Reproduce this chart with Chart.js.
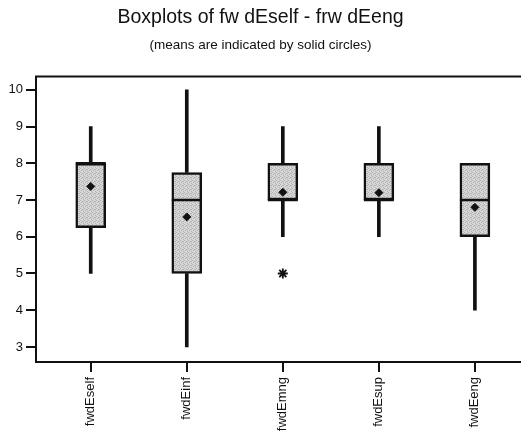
<!DOCTYPE html>
<html>
<head>
<meta charset="utf-8">
<script src="https://cdn.jsdelivr.net/npm/chart.js@4.4.1/dist/chart.umd.min.js"></script>
<style>
  html, body { margin: 0; padding: 0; background: #fff; overflow: hidden; }
  #wrap { width: 521px; height: 439px; }
</style>
</head>
<body>
<div id="wrap"><canvas id="boxChart" width="521" height="439"></canvas></div>
<script>
const categories = ['fwdEself', 'fwdEinf', 'fwdEmng', 'fwdEsup', 'fwdEeng'];
const whiskerLow = [5, 3, 6, 6, 4];
const q1 = [6.25, 5, 7, 7, 6];
const medians = [8, 7, 7, 7, 7];
const q3 = [8, 7.75, 8, 8, 8];
const whiskerHigh = [9, 10, 9, 9, 8];
const means = [7.37, 6.54, 7.21, 7.2, 6.8];
const outlierCats = [2];
const outlierValues = [5];
const yTicks = [3, 4, 5, 6, 7, 8, 9, 10];

// stippled grey fill like the printed original
function makeStipple() {
    const c = document.createElement('canvas');
    c.width = 4; c.height = 4;
    const g = c.getContext('2d');
    g.fillStyle = '#d6d6d6'; g.fillRect(0, 0, 4, 4);
    g.fillStyle = '#b2b2b2';
    [[0, 0], [2, 1], [1, 2], [3, 3], [3, 1]].forEach(p => g.fillRect(p[0], p[1], 1, 1));
    return g.createPattern(c, 'repeat');
}

const topBorder = {
    id: 'topBorder',
    afterDraw(chart) {
        const { ctx, chartArea } = chart;
        ctx.save();
        ctx.strokeStyle = '#111';
        ctx.lineWidth = 2;
        ctx.beginPath();
        ctx.moveTo(chartArea.left - 1, chartArea.top);
        ctx.lineTo(chartArea.right, chartArea.top);
        ctx.stroke();
        ctx.restore();
    }
};

const ctx = document.getElementById('boxChart').getContext('2d');
const fam = "'Liberation Sans', Arial, sans-serif";

new Chart(ctx, {
    type: 'bar',
    data: {
        datasets: [
            {
                type: 'scatter', label: 'means', order: 0,
                data: means.map((m, i) => ({ x: i, y: m })),
                pointStyle: 'rectRot', pointRadius: 4, backgroundColor: '#111', borderColor: '#111', borderWidth: 1
            },
            {
                type: 'scatter', label: 'outliers', order: 0,
                data: outlierValues.map((v, i) => ({ x: outlierCats[i], y: v })),
                pointStyle: 'star', pointRadius: 5, borderColor: '#111', borderWidth: 1.8, backgroundColor: '#111'
            },
            {
                type: 'scatter', label: 'medians', order: 1,
                data: medians.map((m, i) => ({ x: i, y: m })),
                pointStyle: 'line', pointRadius: 15, borderColor: '#111', borderWidth: 2.5
            },
            {
                label: 'boxes', order: 2, grouped: false,
                data: q1.map((v, i) => ({ x: i, y: [v, q3[i]] })),
                backgroundColor: makeStipple(), borderColor: '#111', borderWidth: 2.5, borderSkipped: false,
                barThickness: 30
            },
            {
                label: 'lower whisker', order: 3, grouped: false,
                data: whiskerLow.map((v, i) => ({ x: i, y: [v, q1[i]] })),
                backgroundColor: '#111', borderWidth: 0, barThickness: 3
            },
            {
                label: 'upper whisker', order: 3, grouped: false,
                data: whiskerHigh.map((v, i) => ({ x: i, y: [q3[i], v] })),
                backgroundColor: '#111', borderWidth: 0, barThickness: 3
            }
        ]
    },
    options: {
        responsive: false, animation: false,
        layout: { autoPadding: false, padding: { left: 0, right: 0, top: 0, bottom: 0 } },
        plugins: {
            legend: { display: false },
            tooltip: { enabled: false },
            title: {
                display: true, text: 'Boxplots of fw dEself - frw dEeng', color: '#111',
                font: { family: fam, size: 19.5, weight: 'normal' }, padding: { top: 6, bottom: 3 }
            },
            subtitle: {
                display: true, text: '(means are indicated by solid circles)', color: '#111',
                font: { family: fam, size: 13.5 }, padding: { top: 5, bottom: 23 }
            }
        },
        scales: {
            x: {
                type: 'linear', min: -0.57, max: 4.48, offset: false,
                afterBuildTicks: s => { s.ticks = categories.map((c, i) => ({ value: i })); },
                afterFit: s => { s.height = 77; s.paddingLeft = 0; s.paddingRight = 0; },
                ticks: {
                    callback: v => categories[v], minRotation: 90, maxRotation: 90, autoSkip: false,
                    color: '#111', font: { family: fam, size: 13 }, padding: 5
                },
                grid: { offset: false, drawOnChartArea: false, drawTicks: true, tickLength: 10, color: '#111', lineWidth: 2 },
                border: { display: true, color: '#111', width: 2 }
            },
            y: {
                min: 2.59, max: 10.36,
                afterBuildTicks: s => { s.ticks = yTicks.map(v => ({ value: v })); },
                afterFit: s => { s.width = 36; },
                ticks: { color: '#111', font: { family: fam, size: 13 }, padding: 3 },
                grid: { drawOnChartArea: false, drawTicks: true, tickLength: 10, color: '#111', lineWidth: 2 },
                border: { display: true, color: '#111', width: 2 }
            }
        }
    },
    plugins: [topBorder]
});
</script>
</body>
</html>
